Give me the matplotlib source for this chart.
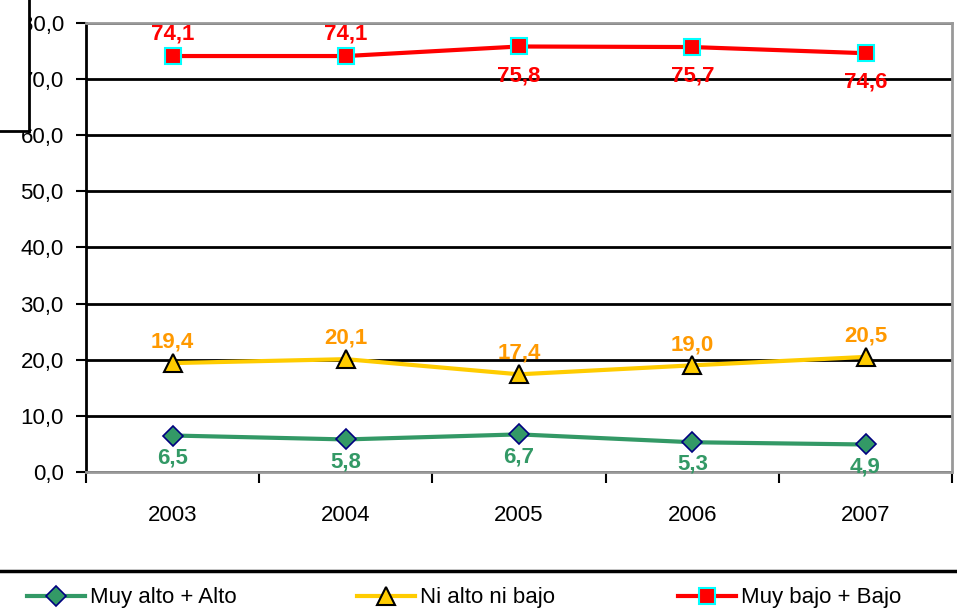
import matplotlib.pyplot as plt
from matplotlib.lines import Line2D
from matplotlib.patches import Rectangle
import numpy as np

plt.rcParams['font.family'] = ['Liberation Sans', 'DejaVu Sans']

years = ["2003", "2004", "2005", "2006", "2007"]
alto = [6.5, 5.8, 6.7, 5.3, 4.9]
medio = [19.4, 20.1, 17.4, 19.0, 20.5]
bajo = [74.1, 74.1, 75.8, 75.7, 74.6]
series_names = ["Muy alto + Alto", "Ni alto ni bajo", "Muy bajo + Bajo"]


def fmt(v):
    return f"{v:.1f}".replace(".", ",")


fig = plt.figure(figsize=(9.57, 6.11), dpi=100)
ax = fig.add_axes([0.0899, 0.2275, 0.905, 0.735])

x = np.arange(len(years))

l1, = ax.plot(x, alto, color="#339966", lw=3, marker="D", ms=10,
              mfc="#339966", mec="#000080", mew=1.2, label=series_names[0], zorder=4)
l2, = ax.plot(x, medio, color="#FFCC00", lw=3, marker="^", ms=13,
              mfc="#FFCC00", mec="black", mew=1.5, label=series_names[1], zorder=4)
l3, = ax.plot(x, bajo, color="#FF0000", lw=3, marker="s", ms=11,
              mfc="#FF0000", mec="#00FFFF", mew=1.5, label=series_names[2], zorder=4)

# data labels
for i, v in enumerate(alto):
    ax.annotate(fmt(v), (x[i], v), xytext=(0, -16), textcoords="offset points",
                ha="center", va="center", color="#339966", fontsize=16, fontweight="bold")
for i, v in enumerate(medio):
    ax.annotate(fmt(v), (x[i], v), xytext=(0, 15), textcoords="offset points",
                ha="center", va="center", color="#FF9900", fontsize=16, fontweight="bold")
for i, v in enumerate(bajo):
    dy = 16 if i < 2 else -21
    ax.annotate(fmt(v), (x[i], v), xytext=(0, dy), textcoords="offset points",
                ha="center", va="center", color="#FF0000", fontsize=16, fontweight="bold")

ax.set_xlim(-0.5, len(years) - 0.5)
ax.set_ylim(0, 80)
yt = np.arange(0, 81, 10)
ax.set_yticks(yt)
ax.set_yticklabels([fmt(v) for v in yt], fontsize=16)
ax.tick_params(axis="y", length=7, width=1.5, pad=9)

ax.set_xticks(np.arange(len(years) + 1) - 0.5)
ax.set_xticklabels([])
ax.tick_params(axis="x", length=8, width=1.5, direction="out")
ax.set_xticks(x, minor=True)
ax.set_xticklabels(years, minor=True, fontsize=16)
ax.tick_params(axis="x", which="minor", length=0, pad=24)

ax.grid(axis="y", color="black", lw=2)
ax.set_axisbelow(True)
for s in ["top", "bottom", "right"]:
    ax.spines[s].set_color("#999999")
    ax.spines[s].set_linewidth(2)
ax.spines["left"].set_color("black")
ax.spines["left"].set_linewidth(2)

# legend: one entry per series, placed like the original
legend_x = [27 / 957, 357 / 957, 678 / 957]
for handle, name, lx in zip([l1, l2, l3], series_names, legend_x):
    leg = fig.legend([handle], [name], loc="center left", bbox_to_anchor=(lx, 1 - 598 / 611),
                     frameon=False, fontsize=16, handlelength=2.6, handletextpad=0.25,
                     borderpad=0, borderaxespad=0)

# separator line above legend
fig.add_artist(Line2D([0, 1], [1 - 571 / 611] * 2, transform=fig.transFigure,
                      color="black", lw=2.5))

# partial box in the top-left corner
fig.add_artist(Rectangle((0, 1 - 131 / 611), 29 / 957, 131 / 611, transform=fig.transFigure,
                         facecolor="white", edgecolor="none", zorder=5))
fig.add_artist(Line2D([29 / 957] * 2, [1 - 131 / 611, 1], transform=fig.transFigure,
                      color="black", lw=2, zorder=6))
fig.add_artist(Line2D([0, 29 / 957], [1 - 131 / 611] * 2, transform=fig.transFigure,
                      color="black", lw=2, zorder=6))

fig.savefig("out.png", dpi=100)
